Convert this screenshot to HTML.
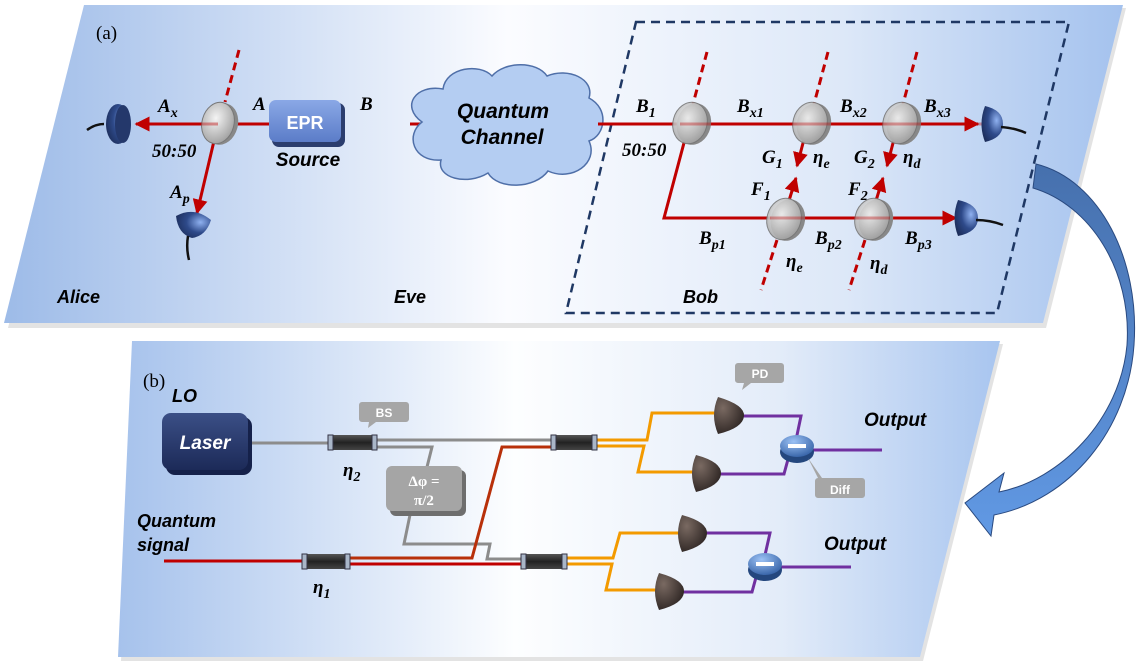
<!DOCTYPE html>
<html><head><meta charset="utf-8"><style>
html,body{margin:0;padding:0;background:#fff;}
svg{display:block;}
.tb{font-family:"Liberation Serif",serif;font-weight:bold;font-style:italic;font-size:19px;fill:#000;}
.sb{font-family:"Liberation Sans",sans-serif;font-weight:bold;font-style:italic;fill:#000;}
</style></head><body>
<svg width="1137" height="663" viewBox="0 0 1137 663" xmlns="http://www.w3.org/2000/svg">
<defs>
<linearGradient id="pa" x1="0" y1="0" x2="1" y2="0">
<stop offset="0" stop-color="#9dbbe8"/><stop offset="0.45" stop-color="#fbfcff"/><stop offset="0.75" stop-color="#dde8f8"/><stop offset="1" stop-color="#a4c2ee"/></linearGradient>
<linearGradient id="pb" x1="0" y1="0" x2="1" y2="0">
<stop offset="0" stop-color="#a6c2ec"/><stop offset="0.45" stop-color="#fdfeff"/><stop offset="0.75" stop-color="#e3ecf9"/><stop offset="1" stop-color="#a8c5ef"/></linearGradient>
<linearGradient id="arr" x1="0" y1="0" x2="0" y2="1">
<stop offset="0" stop-color="#4670ad"/><stop offset="1" stop-color="#6199e4"/></linearGradient>
<radialGradient id="bsg" cx="0.4" cy="0.4" r="0.7"><stop offset="0" stop-color="#f4f4f4"/><stop offset="1" stop-color="#9a9a9a"/></radialGradient>
<radialGradient id="det" cx="0.7" cy="0.4" r="0.8"><stop offset="0" stop-color="#8fb1f0"/><stop offset="0.5" stop-color="#2e4a8a"/><stop offset="1" stop-color="#1a2a55"/></radialGradient>
<radialGradient id="pd" cx="0.3" cy="0.3" r="0.8"><stop offset="0" stop-color="#7a6a62"/><stop offset="1" stop-color="#2a2220"/></radialGradient>
<linearGradient id="epr" x1="0" y1="0" x2="0" y2="1"><stop offset="0" stop-color="#8aa8e6"/><stop offset="1" stop-color="#5b7cc8"/></linearGradient>
<linearGradient id="las" x1="0" y1="0" x2="0" y2="1"><stop offset="0" stop-color="#3b4f86"/><stop offset="1" stop-color="#1c2a58"/></linearGradient>
<linearGradient id="cpl" x1="0" y1="0" x2="0" y2="1"><stop offset="0" stop-color="#555"/><stop offset="0.5" stop-color="#222"/><stop offset="1" stop-color="#444"/></linearGradient>
<radialGradient id="diff" cx="0.4" cy="0.3" r="0.8"><stop offset="0" stop-color="#9cc2f5"/><stop offset="1" stop-color="#2d5aa0"/></radialGradient>
<marker id="ah" viewBox="0 0 10 10" refX="9" refY="5" markerWidth="5" markerHeight="5" orient="auto"><path d="M0,0 L10,5 L0,10 z" fill="#c00000"/></marker>
</defs>

<!-- Panel a -->
<polygon points="87,8 1126,8 1046,328 8,328" fill="#c8c8c8" opacity="0.5"/>
<polygon points="84,5 1123,5 1043,323 4,323" fill="url(#pa)"/>
<text x="96" y="39" font-family="Liberation Serif,serif" font-size="19">(a)</text>

<!-- Bob dashed box -->
<polygon points="636,22 1069,22 997,313 566,313" fill="none" stroke="#1f3864" stroke-width="2.5" stroke-dasharray="9,6"/>

<!-- red beams -->
<line x1="598" y1="124" x2="410" y2="124" stroke="#c00000" stroke-width="3"/>
<line x1="218" y1="124" x2="136" y2="124" stroke="#c00000" stroke-width="3" marker-end="url(#ah)"/>
<line x1="218" y1="124" x2="344" y2="124" stroke="#c00000" stroke-width="3"/>
<line x1="218" y1="124" x2="197" y2="213" stroke="#c00000" stroke-width="3" marker-end="url(#ah)"/>
<line x1="239" y1="50" x2="225" y2="102" stroke="#c00000" stroke-width="3" stroke-dasharray="8,5"/>

<!-- Alice detectors -->
<path d="M87,130 Q95,124 104,124" stroke="#111" stroke-width="2.5" fill="none"/>
<ellipse cx="118" cy="124" rx="12" ry="20" fill="url(#det)"/>
<ellipse cx="123" cy="124" rx="8" ry="19" fill="#24386b"/>
<path d="M176,216 Q194,206 211,220 Q206,236 192,238 Q178,234 176,216 Z" fill="url(#det)"/>
<path d="M188,236 Q186,248 189,260" stroke="#111" stroke-width="2.5" fill="none"/>

<!-- Alice BS -->
<g transform="rotate(15 218 123)"><ellipse cx="222" cy="123" rx="16" ry="21" fill="#888"/><ellipse cx="218" cy="123" rx="16" ry="21" fill="url(#bsg)" stroke="#777"/></g>
<line x1="218" y1="124" x2="200" y2="124" stroke="#c00000" stroke-width="3" opacity="0.4"/>

<!-- EPR -->
<rect x="272" y="103" width="73" height="44" rx="7" fill="#2b3d6e"/>
<rect x="269" y="100" width="72" height="42" rx="7" fill="url(#epr)"/>
<text x="305" y="129" text-anchor="middle" font-family="Liberation Sans,sans-serif" font-weight="bold" font-size="18" fill="#fff">EPR</text>
<text x="308" y="166" text-anchor="middle" class="sb" font-size="19">Source</text>

<text x="158" y="112" class="tb" font-size="20">A<tspan font-size="14" dy="5">x</tspan></text>
<text x="253" y="110" class="tb" font-size="20">A</text>
<text x="360" y="110" class="tb" font-size="20">B</text>
<text x="152" y="157" class="tb">50:50</text>
<text x="170" y="198" class="tb" font-size="20">A<tspan font-size="14" dy="5">p</tspan></text>

<!-- cloud -->
<path d="M422,122 C400,106 416,84 443,89 C446,67 480,63 492,76 C505,61 537,61 547,76 C568,67 595,79 589,98 C610,109 605,136 589,141 C599,163 572,182 548,171 C535,189 498,190 488,173 C467,186 436,178 441,160 C413,162 405,135 422,122 Z" fill="#b4cdf2" stroke="#4f6fa8" stroke-width="1.5"/>
<text x="503" y="118" text-anchor="middle" class="sb" font-size="21">Quantum</text>
<text x="502" y="144" text-anchor="middle" class="sb" font-size="21">Channel</text>

<text x="57" y="303" class="sb" font-size="18">Alice</text>
<text x="394" y="303" class="sb" font-size="18">Eve</text>
<text x="683" y="303" class="sb" font-size="18">Bob</text>

<!-- Bob beams -->
<line x1="598" y1="124" x2="978" y2="124" stroke="#c00000" stroke-width="3" marker-end="url(#ah)"/>
<polyline points="689,124 664,218 956,218" fill="none" stroke="#c00000" stroke-width="3" marker-end="url(#ah)"/>
<line x1="808" y1="124" x2="797" y2="166" stroke="#c00000" stroke-width="3" marker-end="url(#ah)"/>
<line x1="898" y1="124" x2="887" y2="166" stroke="#c00000" stroke-width="3" marker-end="url(#ah)"/>
<line x1="783" y1="220" x2="796" y2="178" stroke="#c00000" stroke-width="3" marker-end="url(#ah)"/>
<line x1="870" y1="220" x2="883" y2="178" stroke="#c00000" stroke-width="3" marker-end="url(#ah)"/>
<g stroke="#c00000" stroke-width="3" stroke-dasharray="8,5">
<line x1="707" y1="52" x2="693" y2="104"/>
<line x1="828" y1="52" x2="814" y2="104"/>
<line x1="917" y1="52" x2="903" y2="104"/>
<line x1="777" y1="240" x2="761" y2="290"/>
<line x1="865" y1="240" x2="849" y2="290"/>
</g>
<g>
<g transform="rotate(15 690 123)"><ellipse cx="694" cy="123" rx="17" ry="21" fill="#888"/><ellipse cx="690" cy="123" rx="17" ry="21" fill="url(#bsg)" stroke="#777" opacity="0.9"/></g>
<g transform="rotate(15 810 123)"><ellipse cx="814" cy="123" rx="17" ry="21" fill="#888"/><ellipse cx="810" cy="123" rx="17" ry="21" fill="url(#bsg)" stroke="#777" opacity="0.9"/></g>
<g transform="rotate(15 900 123)"><ellipse cx="904" cy="123" rx="17" ry="21" fill="#888"/><ellipse cx="900" cy="123" rx="17" ry="21" fill="url(#bsg)" stroke="#777" opacity="0.9"/></g>
<g transform="rotate(15 784 219)"><ellipse cx="788" cy="219" rx="17" ry="21" fill="#888"/><ellipse cx="784" cy="219" rx="17" ry="21" fill="url(#bsg)" stroke="#777" opacity="0.9"/></g>
<g transform="rotate(15 872 219)"><ellipse cx="876" cy="219" rx="17" ry="21" fill="#888"/><ellipse cx="872" cy="219" rx="17" ry="21" fill="url(#bsg)" stroke="#777" opacity="0.9"/></g>
</g>
<line x1="680" y1="124" x2="1000" y2="124" stroke="#c00000" stroke-width="3" opacity="0.35"/>
<line x1="770" y1="218" x2="890" y2="218" stroke="#c00000" stroke-width="3" opacity="0.35"/>
<!-- Bob detectors -->
<path d="M985,106 Q1003,110 1003,124 Q1003,138 985,142 Q978,124 985,106 Z" fill="url(#det)"/>
<path d="M1001,127 Q1015,128 1026,133" stroke="#111" stroke-width="2.5" fill="none"/>
<path d="M958,200 Q978,204 978,218 Q978,232 958,236 Q951,218 958,200 Z" fill="url(#det)"/>
<path d="M976,220 Q990,220 1003,225" stroke="#111" stroke-width="2.5" fill="none"/>

<text x="636" y="112" class="tb" font-size="20">B<tspan font-size="14" dy="5">1</tspan></text>
<text x="737" y="112" class="tb" font-size="20">B<tspan font-size="14" dy="5">x1</tspan></text>
<text x="840" y="112" class="tb" font-size="20">B<tspan font-size="14" dy="5">x2</tspan></text>
<text x="924" y="112" class="tb" font-size="20">B<tspan font-size="14" dy="5">x3</tspan></text>
<text x="622" y="156" class="tb">50:50</text>
<text x="762" y="163" class="tb" font-size="20">G<tspan font-size="14" dy="5">1</tspan></text>
<text x="813" y="163" class="tb" font-size="20">η<tspan font-size="14" dy="5">e</tspan></text>
<text x="854" y="163" class="tb" font-size="20">G<tspan font-size="14" dy="5">2</tspan></text>
<text x="903" y="163" class="tb" font-size="20">η<tspan font-size="14" dy="5">d</tspan></text>
<text x="751" y="195" class="tb" font-size="20">F<tspan font-size="14" dy="5">1</tspan></text>
<text x="848" y="195" class="tb" font-size="20">F<tspan font-size="14" dy="5">2</tspan></text>
<text x="699" y="244" class="tb" font-size="20">B<tspan font-size="14" dy="5">p1</tspan></text>
<text x="815" y="244" class="tb" font-size="20">B<tspan font-size="14" dy="5">p2</tspan></text>
<text x="905" y="244" class="tb" font-size="20">B<tspan font-size="14" dy="5">p3</tspan></text>
<text x="786" y="267" class="tb" font-size="20">η<tspan font-size="14" dy="5">e</tspan></text>
<text x="870" y="269" class="tb" font-size="20">η<tspan font-size="14" dy="5">d</tspan></text>

<!-- Panel b -->
<polygon points="135,344 1003,344 923,661 121,661" fill="#c8c8c8" opacity="0.5"/>
<polygon points="132,341 1000,341 920,657 118,657" fill="url(#pb)"/>
<text x="143" y="387" font-family="Liberation Serif,serif" font-size="19">(b)</text>
<text x="172" y="402" class="sb" font-size="18">LO</text>
<text x="137" y="527" class="sb" font-size="18">Quantum</text>
<text x="137" y="551" class="sb" font-size="18">signal</text>

<!-- fibers -->
<g fill="none" stroke-width="3">
<line x1="250" y1="443" x2="330" y2="443" stroke="#8c8c8c"/>
<line x1="375" y1="440" x2="552" y2="440" stroke="#8c8c8c"/>
<polyline points="375,447 432,447 427,467" stroke="#8c8c8c"/>
<polyline points="411,510 404,544 490,544 487,559 522,559" stroke="#8c8c8c"/>
<line x1="164" y1="561" x2="303" y2="561" stroke="#c00000"/>
<polyline points="348,558 472,558 502,447 552,447" stroke="#b8300a"/>
<line x1="348" y1="564" x2="522" y2="564" stroke="#c00000"/>
<polyline points="595,440 647,440 652,413 717,413" stroke="#f39a00"/>
<polyline points="595,446 644,446 638,472 694,472" stroke="#f39a00"/>
<polyline points="565,558 613,558 620,533 681,533" stroke="#f39a00"/>
<polyline points="565,564 612,564 606,590 658,590" stroke="#f39a00"/>
<polyline points="738,416 801,416 796,440" stroke="#7030a0"/>
<polyline points="717,474 784,474 790,452" stroke="#7030a0"/>
<line x1="810" y1="450" x2="882" y2="450" stroke="#7030a0"/>
<polyline points="703,533 770,533 765,555" stroke="#7030a0"/>
<polyline points="682,592 752,592 758,570" stroke="#7030a0"/>
<line x1="780" y1="567" x2="851" y2="567" stroke="#7030a0"/>
</g>

<!-- Laser -->
<rect x="166" y="417" width="86" height="58" rx="9" fill="#15214a"/>
<rect x="162" y="413" width="86" height="57" rx="9" fill="url(#las)"/>
<text x="205" y="449" text-anchor="middle" font-family="Liberation Sans,sans-serif" font-weight="bold" font-style="italic" font-size="19" fill="#fff">Laser</text>

<!-- couplers -->
<g>
<rect x="328" y="435" width="49" height="15" rx="2" fill="url(#cpl)"/><rect x="328" y="435" width="5" height="15" fill="#a9b6c8" stroke="#334"/><rect x="372" y="435" width="5" height="15" fill="#a9b6c8" stroke="#334"/>
<rect x="551" y="435" width="46" height="15" rx="2" fill="url(#cpl)"/><rect x="551" y="435" width="5" height="15" fill="#a9b6c8" stroke="#334"/><rect x="592" y="435" width="5" height="15" fill="#a9b6c8" stroke="#334"/>
<rect x="521" y="554" width="46" height="15" rx="2" fill="url(#cpl)"/><rect x="521" y="554" width="5" height="15" fill="#a9b6c8" stroke="#334"/><rect x="562" y="554" width="5" height="15" fill="#a9b6c8" stroke="#334"/>
<rect x="302" y="554" width="48" height="15" rx="2" fill="url(#cpl)"/><rect x="302" y="554" width="5" height="15" fill="#a9b6c8" stroke="#334"/><rect x="345" y="554" width="5" height="15" fill="#a9b6c8" stroke="#334"/>
</g>
<text x="343" y="476" class="tb" font-size="20">η<tspan font-size="14" dy="5">2</tspan></text>
<text x="313" y="593" class="tb" font-size="20">η<tspan font-size="14" dy="5">1</tspan></text>

<!-- BS bubble -->
<path d="M362,402 h44 a3,3 0 0 1 3,3 v14 a3,3 0 0 1 -3,3 h-30 l-8,6 l1,-6 h-7 a3,3 0 0 1 -3,-3 v-14 a3,3 0 0 1 3,-3z" fill="#a6a6a6"/>
<text x="384" y="417" text-anchor="middle" font-family="Liberation Sans,sans-serif" font-weight="bold" font-size="12" fill="#fff">BS</text>

<!-- delta phi -->
<rect x="390" y="470" width="76" height="46" rx="6" fill="#6e6e6e"/>
<rect x="386" y="466" width="76" height="45" rx="6" fill="#a5a5a5"/>
<text x="424" y="486" text-anchor="middle" font-family="Liberation Serif,serif" font-weight="bold" font-size="15" fill="#fff">Δφ =</text>
<text x="424" y="505" text-anchor="middle" font-family="Liberation Serif,serif" font-weight="bold" font-size="15" fill="#fff">π/2</text>

<!-- PDs -->
<g>
<path d="M718,397 Q745,405 744,416 Q743,428 718,434 Q710,415 718,397 Z" fill="url(#pd)"/>
<path d="M696,455 Q722,462 721,474 Q720,486 696,492 Q688,473 696,455 Z" fill="url(#pd)"/>
<path d="M682,515 Q708,522 707,534 Q706,546 682,552 Q674,533 682,515 Z" fill="url(#pd)"/>
<path d="M659,573 Q685,580 684,592 Q683,604 659,610 Q651,591 659,573 Z" fill="url(#pd)"/>
</g>
<!-- diff -->
<ellipse cx="797" cy="452" rx="17" ry="11" fill="#24477e"/>
<ellipse cx="797" cy="446" rx="17" ry="11" fill="url(#diff)"/>
<rect x="788" y="444" width="18" height="4" fill="#fff"/>
<ellipse cx="765" cy="570" rx="17" ry="11" fill="#24477e"/>
<ellipse cx="765" cy="564" rx="17" ry="11" fill="url(#diff)"/>
<rect x="756" y="562" width="18" height="4" fill="#fff"/>
<!-- PD bubble -->
<path d="M738,363 h43 a3,3 0 0 1 3,3 v14 a3,3 0 0 1 -3,3 h-30 l-9,7 l2,-7 h-6 a3,3 0 0 1 -3,-3 v-14 a3,3 0 0 1 3,-3z" fill="#a6a6a6"/>
<text x="760" y="378" text-anchor="middle" font-family="Liberation Sans,sans-serif" font-weight="bold" font-size="12" fill="#fff">PD</text>
<!-- Diff bubble -->
<path d="M808,458 L822,478 h40 a3,3 0 0 1 3,3 v14 a3,3 0 0 1 -3,3 h-44 a3,3 0 0 1 -3,-3 v-14 a3,3 0 0 1 3,-3 z" fill="#a6a6a6"/>
<text x="840" y="494" text-anchor="middle" font-family="Liberation Sans,sans-serif" font-weight="bold" font-size="12" fill="#fff">Diff</text>

<text x="864" y="426" class="sb" font-size="19">Output</text>
<text x="824" y="550" class="sb" font-size="19">Output</text>

<!-- curved arrow -->
<path d="M1036,164 C1100,180 1140,260 1134,345 C1128,430 1070,500 994,515 L991,536 L965,503 L1004,473 L999,492 C1060,480 1120,420 1127,345 C1132,270 1090,205 1033,188 Z" fill="url(#arr)" stroke="#2a4a80" stroke-width="1"/>
</svg>
</body></html>
